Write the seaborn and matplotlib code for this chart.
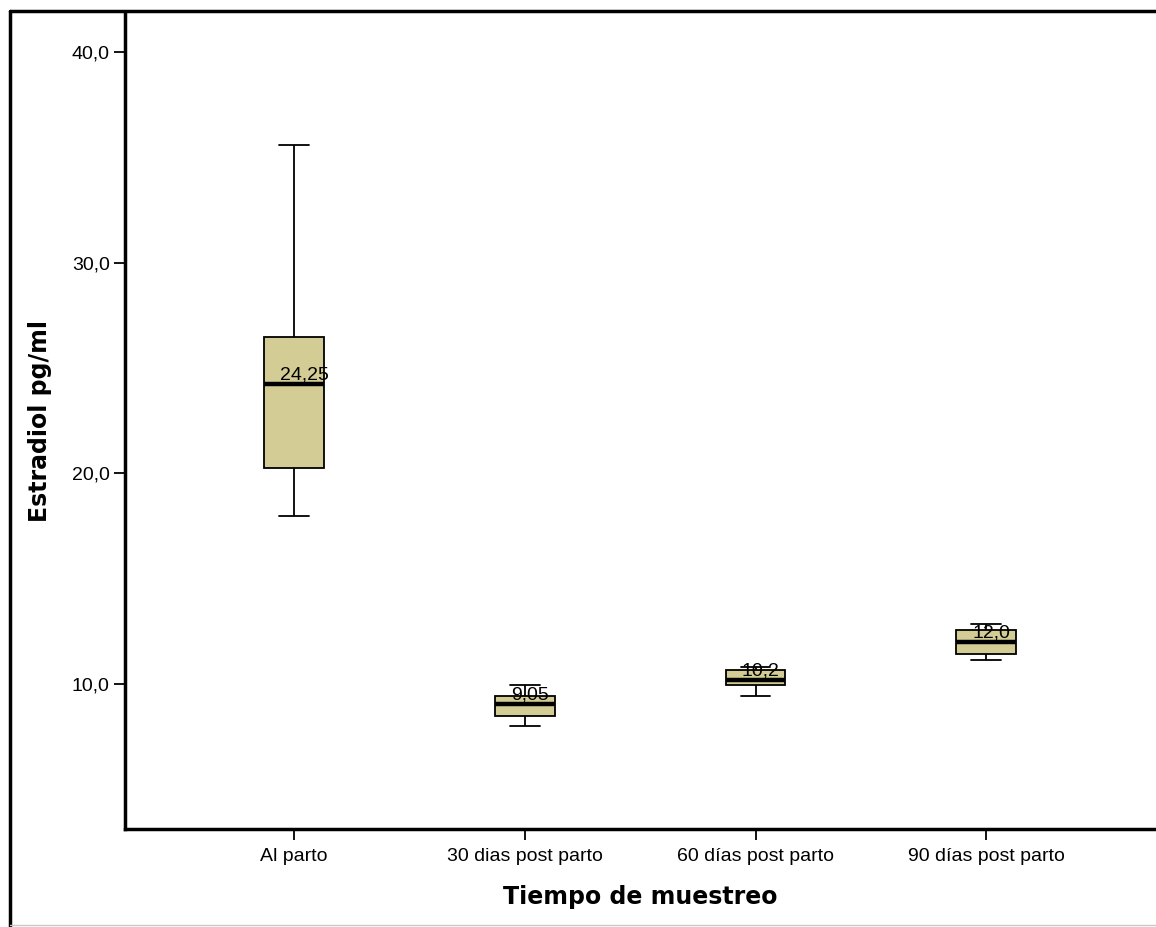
import matplotlib
matplotlib.use("Agg")
import matplotlib.pyplot as plt
import matplotlib.lines as mlines
from matplotlib.ticker import FuncFormatter
import seaborn as sns
import pandas as pd

# Five-number summaries (pg/ml)
categories = ["Al parto", "30 dias post parto", "60 días post parto", "90 días post parto"]
whisker_low = [18.0, 8.0, 9.45, 11.15]
quartile_1 = [20.25, 8.5, 9.95, 11.45]
medians = [24.25, 9.05, 10.2, 12.0]
quartile_3 = [26.45, 9.45, 10.65, 12.55]
whisker_high = [35.6, 9.95, 10.8, 12.85]
median_labels = ["24,25", "9,05", "10,2", "12,0"]
y_ticks = [10, 20, 30, 40]

# five points per group -> quartiles fall exactly on the read values
rows = []
for i, cat in enumerate(categories):
    for v in [whisker_low[i], quartile_1[i], medians[i], quartile_3[i], whisker_high[i]]:
        rows.append({"Tiempo": cat, "Estradiol": v})
df = pd.DataFrame(rows)

sns.set_style("ticks")
plt.rcParams['font.family'] = ['Liberation Sans', 'DejaVu Sans']
plt.rcParams['text.color'] = 'black'
plt.rcParams['axes.labelcolor'] = 'black'

fig = plt.figure(figsize=(11.56, 9.27), dpi=100)
ax = fig.add_axes([125 / 1156, 1 - 829 / 927, 1 - 125 / 1156, (829 - 12) / 927])

sns.boxplot(
    data=df, x="Tiempo", y="Estradiol", order=categories, ax=ax,
    color="#d3cd95", saturation=1, linecolor="black", linewidth=1.3,
    width=0.26, whis=(0, 100), showfliers=False,
    medianprops={"linewidth": 3.2},
)

for i, lab in enumerate(median_labels):
    ax.text(i - 0.06, medians[i] + 0.2, lab, fontsize=14, color="black", ha="left", va="baseline")

ax.set_xlim(-0.733, 3.736)
ax.set_ylim(3.12, 41.9)
ax.set_yticks(y_ticks)
ax.yaxis.set_major_formatter(FuncFormatter(lambda v, p: f"{v:.1f}".replace(".", ",")))

ax.tick_params(axis="both", direction="out", length=8, width=1.3, colors="black", labelsize=14)
ax.tick_params(axis="x", pad=6)
ax.tick_params(axis="y", pad=3)

for side in ["top", "right"]:
    ax.spines[side].set_visible(False)
for side in ["left", "bottom"]:
    ax.spines[side].set_linewidth(2.5)
    ax.spines[side].set_color("black")

ax.set_xlabel("Tiempo de muestreo", fontsize=17, fontweight="bold", family="DejaVu Sans", color="black")
ax.set_ylabel("Estradiol pg/ml", fontsize=17, fontweight="bold", family="DejaVu Sans", color="black")
ax.xaxis.set_label_coords(0.5, (829 - 897) / 817)
ax.xaxis.label.set_va("center")
ax.yaxis.set_label_coords((40 - 125) / 1031, 0.5)
ax.yaxis.label.set_va("center")

# outer frame (left and top edges visible in the crop)
fig.add_artist(mlines.Line2D([10 / 1156, 10 / 1156], [0, 1 - 11 / 927],
                             transform=fig.transFigure, color="black", linewidth=2.5))
fig.add_artist(mlines.Line2D([10 / 1156, 1], [1 - 11 / 927, 1 - 11 / 927],
                             transform=fig.transFigure, color="black", linewidth=2.5))
fig.add_artist(mlines.Line2D([10 / 1156, 1], [2 / 927, 2 / 927],
                             transform=fig.transFigure, color="#c8c8c8", linewidth=1))

fig.savefig("out.png", dpi=100)
